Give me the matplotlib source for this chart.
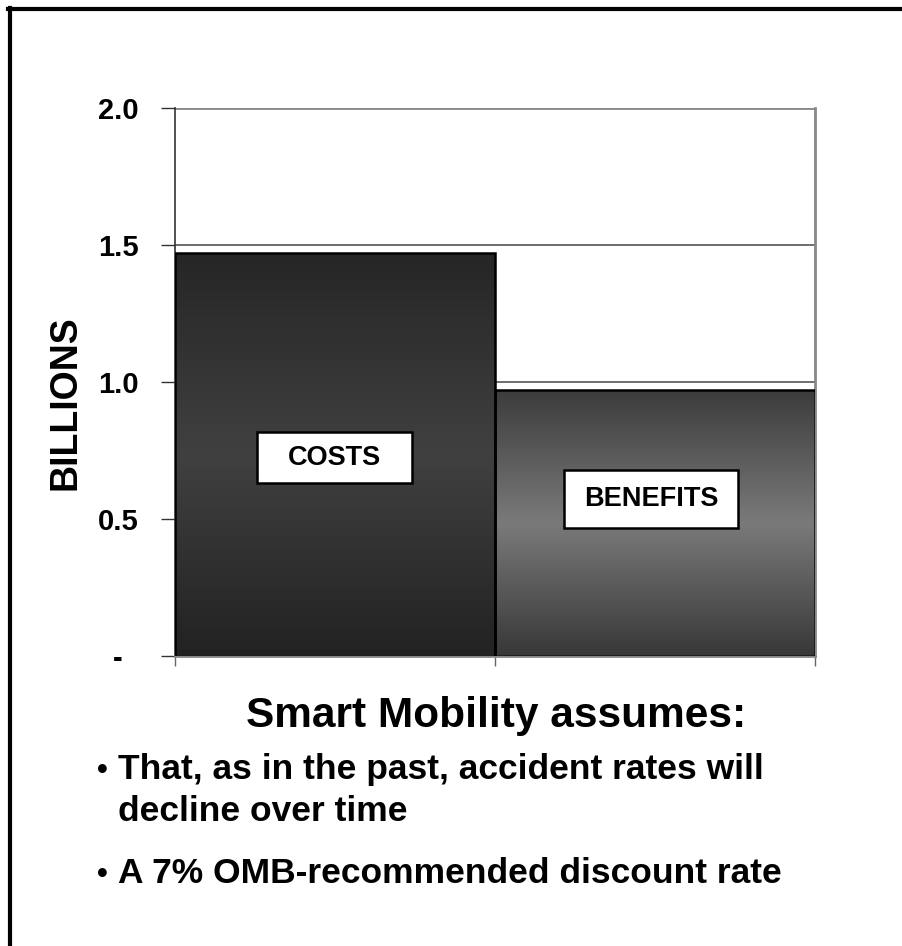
import matplotlib
matplotlib.use("Agg")
import matplotlib.pyplot as plt
import numpy as np
from matplotlib.colors import LinearSegmentedColormap
from matplotlib.lines import Line2D
from matplotlib.patches import Rectangle

categories = ["COSTS", "BENEFITS"]
values = [1.47, 0.97]
yticks = [0.0, 0.5, 1.0, 1.5, 2.0]
ytick_labels = ["-  ", "0.5", "1.0", "1.5", "2.0"]
ylabel = "BILLIONS"
title_below = "Smart Mobility assumes:"
bullets = ["That, as in the past, accident rates will\ndecline over time",
           "A 7% OMB-recommended discount rate"]

plt.rcParams['font.family'] = ['Liberation Sans', 'DejaVu Sans']
plt.rcParams['font.weight'] = 'bold'

W, H = 902, 946
fig = plt.figure(figsize=(W/100, H/100), dpi=100)
fig.patch.set_facecolor('white')

def fx(px): return px / W
def fy(py): return 1 - py / H

ax = fig.add_axes([fx(175), fy(656), fx(815) - fx(175), fy(108) - fy(656)])
ax.set_xlim(0, 2)
ax.set_ylim(0, 2.0)

grads = [["#262626", "#404040", "#222222"], ["#3c3c3c", "#7a7a7a", "#383838"]]
x = np.arange(len(categories))
for i, (cat, v) in enumerate(zip(categories, values)):
    cmap = LinearSegmentedColormap.from_list(f"g{i}", grads[i])
    grad = np.linspace(0, 1, 256).reshape(-1, 1)
    ax.imshow(grad, cmap=cmap, extent=(i, i + 1, 0, v), aspect='auto',
              origin='upper', zorder=2, interpolation='bicubic')
ax.bar(x, values, width=1.0, align='edge', fill=False, edgecolor='black',
       linewidth=1.8, zorder=3)
ax.set_xlim(0, 2)
ax.set_ylim(0, 2.0)

# label boxes (positions in axes-fraction, sizes in pixels)
ax_w_px = 815 - 175
ax_h_px = 656 - 108
label_boxes = [(334.5, 457.5, 155, 51), (651, 499, 174, 58)]
for (cx, cy, bw, bh), cat in zip(label_boxes, categories):
    axx = (cx - 175) / ax_w_px
    axy = (656 - cy) / ax_h_px
    ax.add_patch(Rectangle((axx - bw / 2 / ax_w_px, axy - bh / 2 / ax_h_px),
                           bw / ax_w_px, bh / ax_h_px, transform=ax.transAxes,
                           facecolor='white', edgecolor='black', linewidth=1.8,
                           zorder=5))
    ax.text(axx, axy, cat, transform=ax.transAxes, ha='center', va='center',
            fontsize=19.5, fontweight='bold', zorder=6, color='black')

# grid
for yv in yticks[1:]:
    ax.axhline(yv, color='#555555' if yv < 2 else '#888888',
               linewidth=1.2 if yv < 2 else 2, zorder=1)

ax.set_yticks(yticks)
ax.set_yticklabels(ytick_labels, fontsize=21, fontweight='bold')
ax.tick_params(axis='y', length=10, width=1, color='#333333', pad=16, direction='out')
ax.set_xticks([0, 1, 2])
ax.set_xticklabels([])
ax.tick_params(axis='x', length=7, width=1, color='#666666', direction='out')
ax.spines['top'].set_visible(False)
ax.spines['left'].set_color('#333333')
ax.spines['left'].set_linewidth(1.2)
ax.spines['right'].set_color('#888888')
ax.spines['right'].set_linewidth(2)
ax.spines['bottom'].set_color('#888888')
ax.spines['bottom'].set_linewidth(2)

# y label
fig.text(fx(66), fy(403), ylabel, rotation=90, ha='center', va='center',
         fontsize=27, fontweight='bold')

# texts below
fig.text(fx(496), fy(727), title_below, ha='center', va='baseline', fontsize=30.5,
         fontweight='bold')
l1, l2 = bullets[0].split("\n")
fig.text(fx(97), fy(779), "•", ha='left', va='baseline', fontsize=22, fontweight='bold')
fig.text(fx(118), fy(779), l1, ha='left', va='baseline', fontsize=25.5, fontweight='bold')
fig.text(fx(118), fy(821), l2, ha='left', va='baseline', fontsize=25.5, fontweight='bold')
fig.text(fx(97), fy(883), "•", ha='left', va='baseline', fontsize=22, fontweight='bold')
fig.text(fx(118), fy(883), bullets[1], ha='left', va='baseline', fontsize=25.5, fontweight='bold')

# border (left and top)
fig.add_artist(Line2D([fx(9.5), fx(9.5)], [fy(8), fy(H + 10)], color='black', linewidth=3))
fig.add_artist(Line2D([fx(8), fx(W + 10)], [fy(9.5), fy(9.5)], color='black', linewidth=3))

fig.savefig("out.png", dpi=100)
